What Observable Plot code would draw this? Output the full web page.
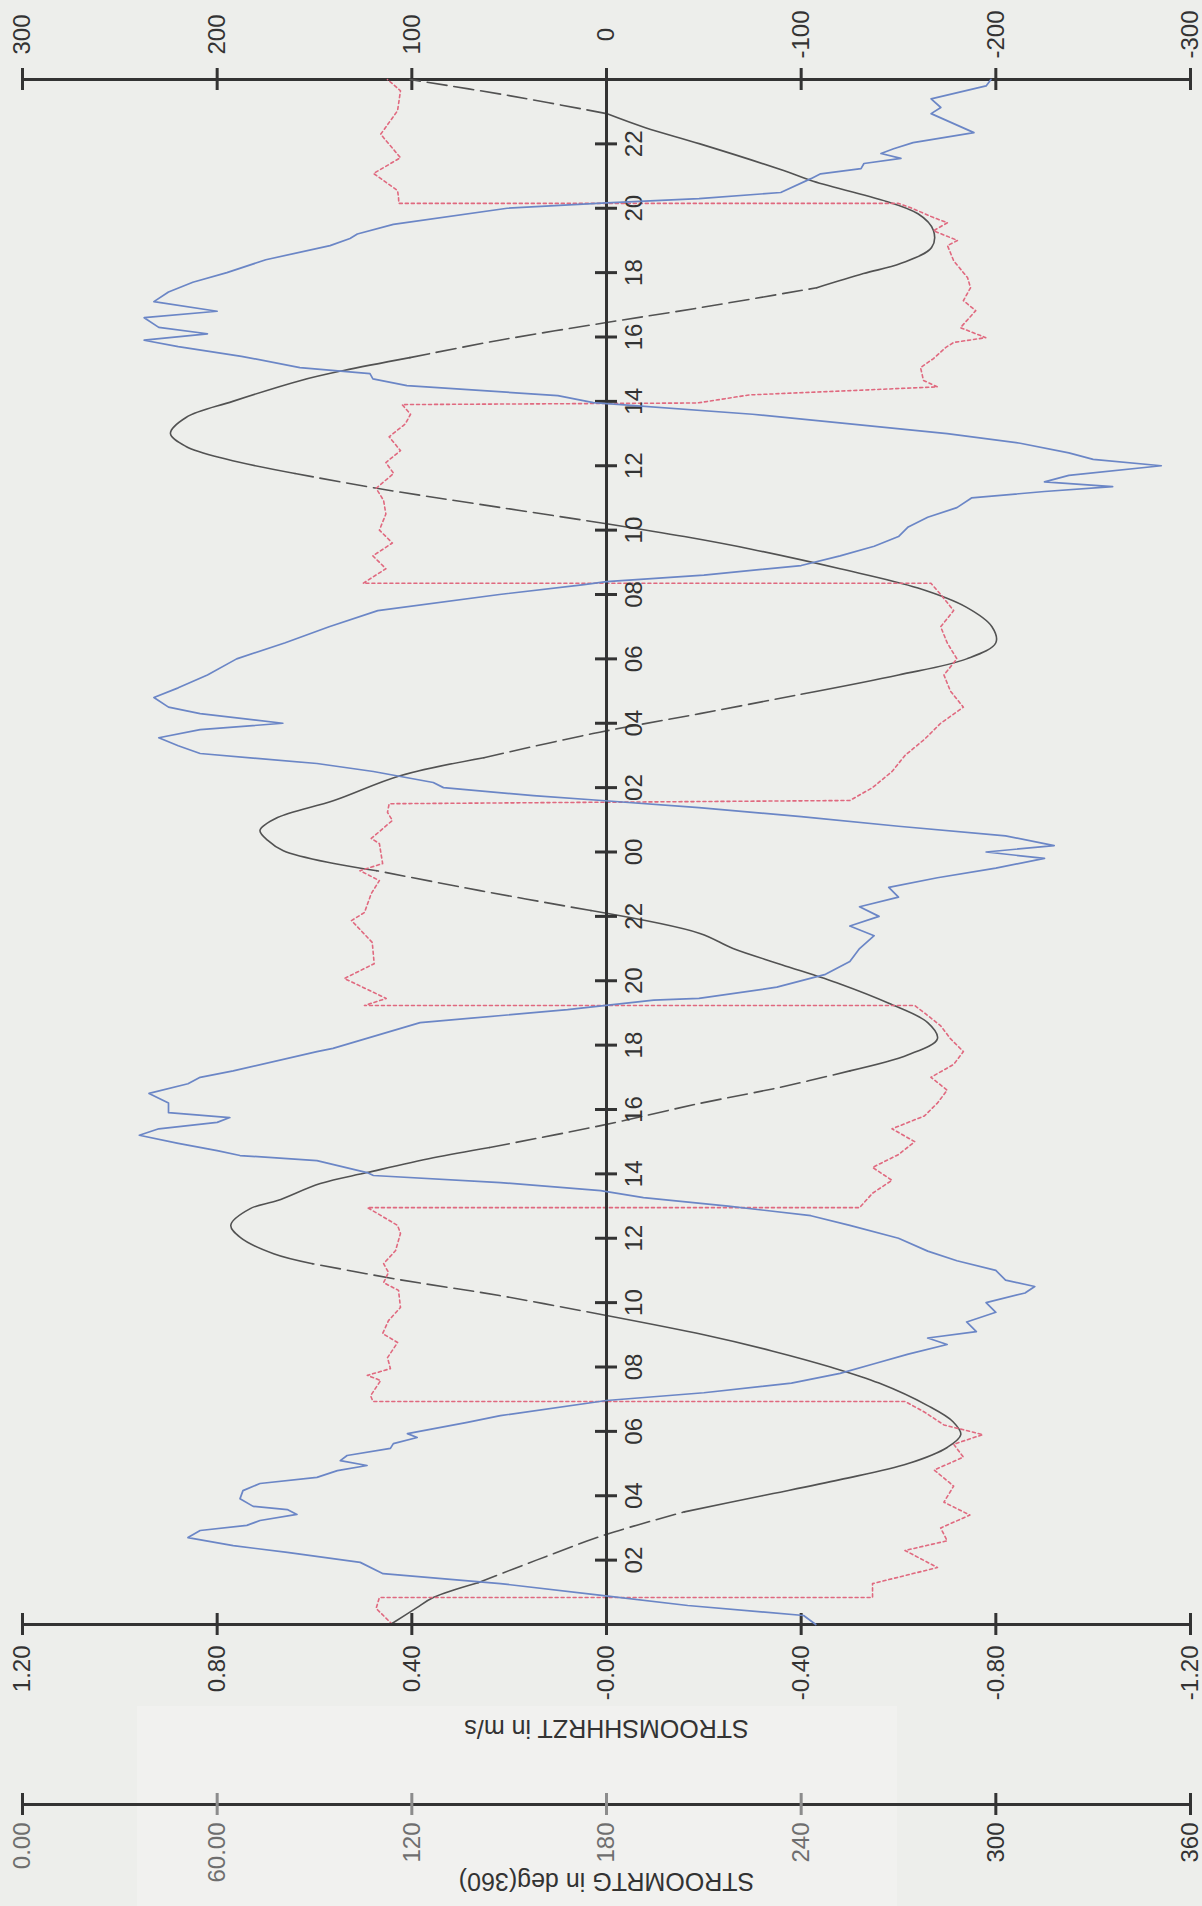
<!DOCTYPE html>
<html><head><meta charset="utf-8">
<script src="https://cdn.jsdelivr.net/npm/d3@7"></script>
<script src="https://cdn.jsdelivr.net/npm/@observablehq/plot@0.6"></script>
<style>
html,body{margin:0;padding:0;background:#edeeeb;}
#chart{position:relative;width:1202px;height:1906px;background:#edeeeb;overflow:hidden;}
#chart svg{position:absolute;left:0;top:0;}
#panel{position:absolute;left:137px;top:1706px;width:760px;height:200px;background:#f1f1ef;}
</style></head><body><div id="chart"><div id="panel"></div></div>
<script>
// ---- DATA (time in hours since start of day 1) ----
const timeTicks = [2,4,6,8,10,12,14,16,18,20,22,24,26,28,30,32,34,36,38,40,42,44,46];
const timeTickLabels = ["02","04","06","08","10","12","14","16","18","20","22","00","02","04","06","08","10","12","14","16","18","20","22"];
const speedTicks = [1.2, 0.8, 0.4, 0, -0.4, -0.8, -1.2];
const speedTickLabels = ["1.20","0.80","0.40","-0.00","-0.40","-0.80","-1.20"];
const levelTicks = [300, 200, 100, 0, -100, -200, -300];
const levelTickLabels = ["300","200","100","0","-100","-200","-300"];
const dirTicks = [0, 60, 120, 180, 240, 300, 360];
const dirTickLabels = ["0.00","60.00","120","180","240","300","360"];
const speedTitle = "STROOMSHHRZT in m/s";
const dirTitle = "STROOMRTG in deg(360)";

// STROOMSHHRZT (m/s) [hour, value]
const speed = [[0,-0.43],[0.28,-0.405],[0.59,-0.167],[0.9,0.006],[1.27,0.218],[1.58,0.459],[1.93,0.506],[2.24,0.656],[2.45,0.767],[2.7,0.86],[2.92,0.835],[3.08,0.739],[3.23,0.712],[3.42,0.636],[3.57,0.656],[3.67,0.726],[3.91,0.753],[4.16,0.747],[4.38,0.712],[4.57,0.595],[4.78,0.553],[4.94,0.492],[5.09,0.547],[5.25,0.533],[5.47,0.444],[5.62,0.438],[5.81,0.389],[5.93,0.409],[6.28,0.286],[6.49,0.218],[6.96,0.0],
[7.2,-0.2],[7.5,-0.38],[7.8,-0.48],[8.1,-0.55],[8.4,-0.62],[8.7,-0.7],[8.9,-0.66],[9.1,-0.76],[9.4,-0.74],[9.7,-0.8],[10.0,-0.78],[10.3,-0.86],[10.5,-0.88],[10.7,-0.82],[11.0,-0.8],[11.3,-0.72],[11.6,-0.66],[12.0,-0.6],[12.4,-0.5],[12.7,-0.42],[13.0,-0.25],[13.26,-0.076],[13.48,0.012],[13.73,0.218],[13.95,0.479],[14.04,0.492],[14.41,0.595],[14.57,0.753],[14.72,0.8],[14.95,0.88],[15.2,0.96],[15.4,0.92],[15.6,0.8],[15.75,0.774],[15.9,0.9],[16.2,0.9],[16.5,0.94],[16.8,0.86],[17.0,0.835],[17.2,0.767],[17.8,0.595],[17.9,0.562],[18.7,0.383],[19.1,0.08],[19.4,-0.097],[19.45,-0.19],
[19.8,-0.35],[20.2,-0.45],[20.6,-0.5],[21.0,-0.52],[21.4,-0.55],[21.7,-0.5],[22.0,-0.56],[22.3,-0.52],[22.6,-0.6],[22.9,-0.58],[23.2,-0.68],[23.5,-0.8],[23.8,-0.9],[24.0,-0.78],[24.2,-0.92],[24.5,-0.82],[24.8,-0.6],[25.1,-0.4],[25.38,-0.19],[25.6,0.01],[25.75,0.15],[26.0,0.335],[26.16,0.356],[26.5,0.479],[26.75,0.595],[27.06,0.835],[27.3,0.88],[27.55,0.92],[27.8,0.835],[28.0,0.665],[28.3,0.835],[28.5,0.9],[28.8,0.93],[29.1,0.88],[29.5,0.82],[30.0,0.76],[30.5,0.66],[31.0,0.57],[31.5,0.47],[32.0,0.22],[32.3,0.05],[32.4,0],
[32.6,-0.2],[32.9,-0.4],[33.2,-0.48],[33.5,-0.55],[33.8,-0.6],[34.1,-0.62],[34.4,-0.66],[34.7,-0.72],[35.0,-0.75],[35.2,-0.9],[35.35,-1.04],[35.5,-0.9],[35.7,-0.95],[36.0,-1.14],[36.2,-1.0],[36.4,-0.95],[36.7,-0.85],[37.0,-0.7],[37.3,-0.5],[37.6,-0.3],[37.96,0.027],[38.18,0.1],[38.49,0.41],[38.7,0.48],[38.86,0.486],[39.05,0.63],[39.4,0.75],[39.7,0.88],[39.9,0.95],[40.1,0.82],[40.3,0.92],[40.6,0.95],[40.8,0.8],[41.1,0.93],[41.4,0.9],[41.7,0.85],[42.0,0.78],[42.4,0.7],[42.84,0.568],[43.06,0.527],[43.2,0.512],[43.5,0.438],[44.0,0.204],[44.17,0],[44.3,-0.19],[44.49,-0.358],[44.92,-0.42],[45.07,-0.44],[45.23,-0.523],[45.39,-0.529],[45.55,-0.605],[45.7,-0.564],[45.85,-0.59],[46.04,-0.63],[46.35,-0.755],[46.94,-0.667],[47.13,-0.687],[47.4,-0.667],[47.8,-0.78],[48,-0.79]];

// Water level (cm) [hour, value]
const level = [[0,111],[0.5,98],[0.84,89],[1.3,66],[2.0,36],[2.8,0],[3.5,-40],[4.0,-80],[4.5,-120],[5.0,-155],[5.5,-175],[5.9,-182],[6.3,-178],[6.8,-165],[7.5,-140],[8.0,-115],[8.5,-85],[9.0,-50],[9.6,0],[10.22,55],[10.7,105],[11.21,151],[11.52,171],[12.02,188],[12.4,193],[12.92,183],[13.17,169],[13.7,147],[14.04,123],[14.5,89],[14.82,60],[15.5,3],[16.19,-48],[16.7,-90],[17.2,-125],[17.7,-155],[18.2,-170],[18.7,-165],[19.3,-145],[19.9,-120],[20.5,-90],[21.0,-65],[21.47,-48],[22.18,8],[22.8,65],[23.42,118],[23.64,140],[24.04,166],[24.36,174],[24.67,178],[25.07,169],[25.6,140],[26.37,106],[26.93,63],[27.68,7],[28.3,-48],[28.9,-100],[29.5,-150],[30.0,-185],[30.5,-200],[31.0,-198],[31.6,-185],[32.2,-160],[32.8,-120],[33.4,-75],[33.8,-40],[34.2,0],[34.8,65],[35.3,118],[35.76,160],[36.2,195],[36.6,216],[37.0,224],[37.5,216],[38.0,192],[38.65,157],[38.96,135],[39.36,101],[39.9,55],[40.45,0],[40.91,-48],[41.53,-108],[41.97,-132],[42.28,-151],[42.78,-167],[43.3,-168],[43.83,-160],[44.86,-105],[45.17,-91],[46.0,-48],[46.5,-20],[46.94,0],[47.5,50],[48,101]];
// stretches of the level curve drawn dashed [from hour, to hour]
const levelDashed = [[1.4,3.7],[9.6,11.2],[14.8,17.0],[22.18,23.42],[26.93,29.0],[34.2,35.8],[39.2,41.53],[46.94,48]];

// STROOMRTG (deg) [hour, value]
const direction = [[0,114],[0.5,109],[0.84,110],[0.84,262],[1.27,262],[1.77,282],[2.3,272],[2.6,285],[3.0,283],[3.4,292],[3.8,284],[4.3,287],[4.8,281],[5.2,290],[5.6,287],[5.9,296],[6.2,284],[6.6,278],[6.93,272],[6.93,108],[7.11,107.3],[7.58,110.4],[7.74,106.3],[7.95,113.4],[8.29,112.5],[8.76,115.6],[9.04,111],[9.44,112.8],[9.85,116.5],[10.38,115.9],[10.62,111.3],[10.94,112.8],[11.21,111.3],[11.62,115],[12.15,116.5],[12.4,115.6],[12.71,110.4],[12.95,106.3],[12.95,258],[13.4,262],[13.8,268],[14.2,262],[14.6,270],[15.0,275],[15.4,268],[15.8,278],[16.2,282],[16.6,285],[17.0,280],[17.4,287],[17.8,290],[18.2,286],[18.6,283],[19.0,278],[19.23,275],[19.23,105.4],[19.45,112.1],[19.6,109],[20.07,99.2],[20.53,108.4],[21.19,107.8],[21.87,101.4],[22.12,105.4],[22.71,107.5],[23.11,110],[23.42,104],[23.64,111],[24.26,110],[24.42,107.5],[24.98,114],[25.23,112.5],[25.5,113],[25.6,255],[26.0,262],[26.5,268],[27.0,272],[27.5,278],[28.0,283],[28.5,290],[29.0,286],[29.5,284],[30.0,288],[30.5,285],[31.0,283],[31.5,287],[32.0,283],[32.35,280],[32.35,105],[32.8,112],[33.2,108],[33.6,114],[34.0,110],[34.5,112],[34.92,111.3],[35.3,109],[35.76,114.4],[36.1,112],[36.47,116.5],[36.9,113],[37.3,118],[37.6,119.6],[37.9,117],[37.95,208],[38.2,224],[38.45,282],[38.65,277.7],[39.05,276.8],[39.33,280.8],[39.67,284.5],[39.83,287],[39.98,296.9],[40.29,289.1],[40.82,293.8],[41.13,290],[41.53,292.2],[41.84,291.3],[42.37,287],[42.84,285.1],[43.0,288.2],[43.3,280.8],[43.55,285.1],[43.71,280.8],[43.99,274.4],[44.15,270],[44.15,116],[44.33,115.9],[44.55,115.6],[45.08,108.2],[45.57,116.5],[46.3,110.4],[47.03,115.6],[47.65,116.5],[48,112.5]];

// ---- DRAWING ----
const FONT = "'Liberation Sans', Arial, Helvetica, sans-serif";
const AX = "#333333";
const W = 1202, H = 1906;
const frame = {width: W, height: H, marginTop: 79, marginBottom: 282, marginLeft: 22, marginRight: 12};
const row = ([t, v]) => ({t, v});

function make(xDomain, marks) {
  return Plot.plot({
    ...frame,
    x: {domain: xDomain, axis: null},
    y: {domain: [0, 48], axis: null},
    style: {background: "transparent", fontFamily: FONT, overflow: "visible"},
    marks
  });
}

function splitStyled(points, ranges) {
  const rows = []; let seg = -1, prev = null;
  for (let i = 0; i < points.length - 1; i++) {
    const [t0, v0] = points[i], [t1, v1] = points[i + 1];
    const mid = (t0 + t1) / 2;
    const dashed = ranges.some(([a, b]) => mid > a && mid < b);
    if (dashed !== prev) { seg++; rows.push({t: t0, v: v0, seg, dashed}); prev = dashed; }
    rows.push({t: t1, v: v1, seg, dashed});
  }
  return rows;
}
const levelRows = splitStyled(level, levelDashed);

const levelPlot = make([300, -300], [
  Plot.ruleY([48], {stroke: AX, strokeWidth: 3}),
  Plot.ruleX(levelTicks, {x: d => d, y1: 48, y2: 48, insetTop: 11, insetBottom: 11, stroke: AX, strokeWidth: 3}),
  Plot.text(levelTicks, {x: d => d, y: 48, dy: -45, rotate: -90, text: (d, i) => levelTickLabels[i], textAnchor: "middle", lineAnchor: "middle", fontSize: 24, fill: AX}),
  Plot.line(levelRows.filter(d => !d.dashed), {x: "v", y: "t", z: "seg", stroke: "#525252", strokeWidth: 1.6, curve: "catmull-rom"}),
  Plot.line(levelRows.filter(d => d.dashed), {x: "v", y: "t", z: "seg", stroke: "#525252", strokeWidth: 1.6, strokeDasharray: "20,7", curve: "catmull-rom"})
]);

const dirPlot = make([0, 360], [
  Plot.ruleY([0], {dy: 180, stroke: AX, strokeWidth: 3}),
  Plot.ruleX(dirTicks, {x: d => d, y1: 0, y2: 0, dy: 180, insetTop: 11, insetBottom: 11, stroke: d => (d > 0 && d <= 240 ? "#8c8c8c" : AX), strokeWidth: 3}),
  Plot.text(dirTicks, {x: d => d, y: 0, dy: 198, rotate: -90, text: (d, i) => dirTickLabels[i], textAnchor: "end", lineAnchor: "middle", fontSize: 24, fill: d => (d <= 240 ? "#6e6e6e" : AX)}),
  Plot.text([dirTitle], {frameAnchor: "bottom", dy: 256, rotate: 180, text: d => d, textAnchor: "middle", lineAnchor: "middle", fontSize: 25, fill: AX}),
  Plot.line(direction.map(row), {x: "v", y: "t", stroke: "#e0697f", strokeWidth: 1.6, strokeDasharray: "3,3"})
]);

const speedPlot = make([1.2, -1.2], [
  Plot.ruleX([0], {stroke: AX, strokeWidth: 3}),
  Plot.ruleY(timeTicks, {y: d => d, x1: 0, x2: 0, insetLeft: 11, insetRight: 11, stroke: AX, strokeWidth: 3}),
  Plot.text(timeTicks, {y: d => d, x: 0, dx: 28, rotate: -90, text: (d, i) => timeTickLabels[i], textAnchor: "middle", lineAnchor: "middle", fontSize: 24, fill: AX}),
  Plot.ruleY([0], {stroke: AX, strokeWidth: 3}),
  Plot.ruleX(speedTicks, {x: d => d, y1: 0, y2: 0, insetTop: 11, insetBottom: 11, stroke: AX, strokeWidth: 3}),
  Plot.text(speedTicks, {x: d => d, y: 0, dy: 21, rotate: -90, text: (d, i) => speedTickLabels[i], textAnchor: "end", lineAnchor: "middle", fontSize: 24, fill: AX}),
  Plot.text([speedTitle], {frameAnchor: "bottom", dy: 103, rotate: 180, text: d => d, textAnchor: "middle", lineAnchor: "middle", fontSize: 25, fill: AX}),
  Plot.line(speed.map(row), {x: "v", y: "t", stroke: "#6b86c6", strokeWidth: 1.7})
]);

const chart = document.getElementById("chart");
chart.append(levelPlot, dirPlot, speedPlot);
</script></body></html>
